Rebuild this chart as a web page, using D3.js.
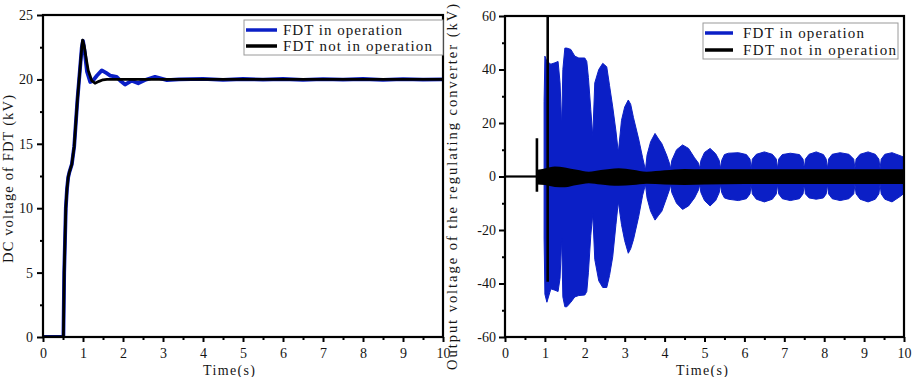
<!DOCTYPE html>
<html>
<head>
<meta charset="utf-8">
<script src="https://cdn.jsdelivr.net/npm/d3@7/dist/d3.min.js"></script>
<style>
  body { margin: 0; background: #fff; }
  svg { display: block; }
  text { font-family: "Liberation Serif", "DejaVu Serif", serif; fill: #151515; }
</style>
</head>
<body>
<svg id="chart" width="913" height="377"></svg>
<script>
// ---- left panel: DC voltage of FDT ----
const dcBlueT = [0, 0.5, 0.51, 0.53, 0.57, 0.6, 0.63, 0.66, 0.72, 0.78, 0.86, 0.93, 0.97, 1.0, 1.04, 1.1, 1.18, 1.25, 1.35, 1.47, 1.58, 1.68, 1.84, 1.95, 2.05, 2.22, 2.38, 2.55, 2.8, 3.1, 3.4, 4.0, 4.5, 5.0, 5.5, 6.0, 6.5, 7.0, 7.5, 8.0, 8.5, 9.0, 9.5, 10];
const dcBlueV = [0, 0, 0, 5, 10, 11.5, 12.4, 12.8, 13.4, 14.8, 18.4, 21, 22.5, 23, 22.2, 20.6, 19.8, 19.9, 20.3, 20.7, 20.5, 20.3, 20.2, 19.85, 19.6, 19.9, 19.7, 19.95, 20.2, 19.95, 20.0, 20.04, 19.97, 20.03, 19.98, 20.03, 19.97, 20.02, 19.98, 20.03, 19.97, 20.02, 19.98, 20];
const dcBlackT = [0, 0.5, 0.51, 0.53, 0.57, 0.6, 0.63, 0.66, 0.72, 0.78, 0.86, 0.93, 0.97, 0.99, 1.03, 1.08, 1.13, 1.22, 1.3, 1.4, 1.5, 1.6, 2.0, 10];
const dcBlackV = [0, 0, 0, 5, 10, 11.5, 12.4, 12.8, 13.4, 14.8, 18.4, 21, 22.5, 23.05, 22.6, 21.6, 20.7, 19.9, 19.7, 19.85, 19.97, 20, 20, 20];

// ---- right panel: envelopes of the output voltage ----
const outBlueT = [
  0.98, 1.0, 1.05, 1.15, 1.25, 1.33, 1.38, 1.42, 1.45, 1.5, 1.55, 1.65, 1.75, 1.85, 2.0, 2.05, 2.09, 2.15, 2.2, 2.25,
  2.35, 2.45, 2.55, 2.62, 2.7, 2.78, 2.84, 2.92, 3.0, 3.09, 3.15, 3.22, 3.35, 3.45, 3.52,
  3.56, 3.65, 3.76, 3.85, 3.93, 4.05, 4.12, 4.15,
  4.18, 4.3, 4.45, 4.6, 4.75, 4.85, 4.88,
  4.91, 5.0, 5.14, 5.28, 5.37, 5.4,
  5.43, 5.5, 5.6, 5.85, 6.05, 6.14, 6.17,
  6.2, 6.3, 6.5, 6.7, 6.8, 6.83,
  6.86, 6.95, 7.15, 7.38, 7.47, 7.5,
  7.53, 7.62, 7.8, 7.98, 8.05, 8.08,
  8.11, 8.2, 8.4, 8.62, 8.74, 8.77,
  8.8, 8.9, 9.1, 9.28, 9.37, 9.4,
  9.43, 9.52, 9.7, 9.9, 10];
const outBlueHigh = [
  28, 45, 43, 42, 42.5, 43, 35, 18.6, 40, 48, 48, 47.5, 45, 44.3, 44.3, 43, 37, 25, 15, 35,
  40, 42.3, 41, 34, 26, 17, 9, 21, 26, 28.6, 27, 22, 14, 7, 2.4,
  8, 13, 16.1, 14, 12.3, 8, 5, 3,
  6, 10, 11.8, 10.5, 7, 5, 3,
  6, 9, 10.5, 8.5, 6, 3,
  6, 8.2, 8.7, 8.9, 8.2, 6.5, 3,
  6.5, 8.3, 9.2, 8.3, 6.5, 3,
  6.5, 8.2, 8.7, 8.2, 6.5, 3,
  6.5, 8.3, 9.2, 8.2, 6.5, 3,
  6.5, 8.3, 8.9, 8.3, 6.5, 3,
  6.5, 8.3, 9.2, 8.3, 6.5, 3,
  6.5, 8.3, 8.9, 7.8, 7.2];
const outBlueLow = [
  -23, -44, -47, -42, -42.5, -43, -38, -23, -45, -48.7, -48.7, -47, -45, -44.5, -44.3, -43, -36, -22, -14, -31,
  -39, -41.5, -41.5, -37, -30, -18, -9.4, -18, -24, -28.7, -27, -23.6, -15, -7, -3,
  -8, -13, -16.3, -14.5, -13, -8, -5, -3,
  -6, -10, -12.3, -11, -8, -5, -3,
  -6, -9, -11, -9, -6, -3,
  -6, -8, -8.5, -9, -8.3, -6.5, -3,
  -6.5, -8.5, -9.5, -8.5, -6.5, -3,
  -6.5, -8.3, -9, -8.3, -6.5, -3,
  -6.5, -8, -8.5, -8, -6.5, -3,
  -6.5, -8.3, -9, -8.3, -6.5, -3,
  -6.5, -8.5, -9.5, -8.5, -6.5, -3,
  -6.5, -8.5, -9.5, -7.5, -6.3];
const outBlackT = [0.8, 1.0, 1.25, 1.5, 1.8, 2.1, 2.4, 2.85, 3.2, 3.55, 4.0, 4.5, 5.0, 6.0, 8.0, 10];
const outBlackHigh = [2.5, 3, 3.7, 3.4, 2.5, 1.8, 2.4, 3.1, 2.5, 1.8, 2.3, 2.8, 2.7, 2.7, 2.7, 2.7];
const outBlackLow = [-3, -3.2, -3.9, -4, -3.2, -2.5, -3, -3.5, -3.2, -2.7, -3, -3.2, -3, -2.8, -2.8, -2.8];
const outBlackFlatT = [0, 0.8];
const spikeT = [0.8, 1.07];
const spikeHigh = [14.3, 60];
const spikeLow = [-5.7, -39.3];

const xTicks = [0, 1, 2, 3, 4, 5, 6, 7, 8, 9, 10];
const leftYTicks = [0, 5, 10, 15, 20, 25];
const rightYTicks = [-60, -40, -20, 0, 20, 40, 60];
const seriesNames = ["FDT in operation", "FDT not in operation"];

const BLUE = "#0b1fc6";
const svg = d3.select("#chart");

function drawFrame(p) {
  const g = svg.append("g");
  // minor ticks
  g.append("g")
    .attr("transform", `translate(0,${p.y.range()[0]})`)
    .call(d3.axisBottom(p.x).tickValues(d3.range(0.5, 10, 1)).tickSize(3).tickFormat(""));
  g.append("g")
    .attr("transform", `translate(${p.x.range()[0]},0)`)
    .call(d3.axisLeft(p.y).tickValues(p.minorY).tickSize(3).tickFormat(""));
  // major ticks
  g.append("g")
    .attr("transform", `translate(0,${p.y.range()[0]})`)
    .call(d3.axisBottom(p.x).tickValues(xTicks).tickSize(5).tickPadding(6.5).tickFormat(d3.format("d")));
  g.append("g")
    .attr("transform", `translate(${p.x.range()[0]},0)`)
    .call(d3.axisLeft(p.y).tickValues(p.yTicks).tickSize(6).tickPadding(p.yPad).tickFormat(d => String(d)));
  g.selectAll(".domain").remove();
  g.selectAll(".tick line").attr("stroke", "#000").attr("stroke-width", 2);
  g.selectAll(".tick text").attr("font-size", 14).style("font-family", "Liberation Serif").attr("fill", "#151515");

  // box
  svg.append("rect")
    .attr("x", p.x.range()[0]).attr("y", p.y.range()[1])
    .attr("width", p.x.range()[1] - p.x.range()[0])
    .attr("height", p.y.range()[0] - p.y.range()[1])
    .attr("fill", "none").attr("stroke", "#000").attr("stroke-width", 2.2);

  // axis titles
  svg.append("text")
    .attr("x", p.xTitleX).attr("y", 374.5)
    .attr("text-anchor", "middle").attr("font-size", 14)
    .attr("textLength", 52).attr("lengthAdjust", "spacing")
    .text("Time(s)");
  svg.append("text")
    .attr("transform", `translate(${p.yTitleX},${p.yTitleY}) rotate(-90)`)
    .attr("text-anchor", "middle").attr("font-size", 14.5)
    .attr("textLength", p.yTitleLen).attr("lengthAdjust", "spacing")
    .text(p.yTitle);

  // legend
  const lg = svg.append("g");
  lg.append("rect")
    .attr("x", p.leg.x).attr("y", p.leg.y).attr("width", p.leg.w).attr("height", p.leg.h)
    .attr("fill", "#fff").attr("stroke", "#9a9a9a").attr("stroke-width", 1);
  [BLUE, "#000"].forEach((c, i) => {
    lg.append("line")
      .attr("x1", p.leg.lx1).attr("x2", p.leg.lx2)
      .attr("y1", p.leg.ly[i]).attr("y2", p.leg.ly[i])
      .attr("stroke", c).attr("stroke-width", 3.5);
    lg.append("text")
      .attr("x", p.leg.tx).attr("y", p.leg.ly[i] + 5)
      .attr("font-size", 15)
      .attr("textLength", p.leg.tl[i]).attr("lengthAdjust", "spacing")
      .text(seriesNames[i]);
  });
}

// ---------- left panel ----------
const xL = d3.scaleLinear().domain([0, 10]).range([43, 443]);
const yL = d3.scaleLinear().domain([0, 25]).range([337, 15]);

svg.append("clipPath").attr("id", "clipL").append("rect")
  .attr("x", 43).attr("y", 15).attr("width", 400).attr("height", 322);

const lineL = d3.line().x(d => xL(d[0])).y(d => yL(d[1]));
const gL = svg.append("g").attr("clip-path", "url(#clipL)");
gL.append("path")
  .datum(dcBlueT.map((t, i) => [t, dcBlueV[i]]))
  .attr("d", lineL).attr("fill", "none")
  .attr("stroke", BLUE).attr("stroke-width", 3.8).attr("stroke-linejoin", "round");
gL.append("path")
  .datum(dcBlackT.map((t, i) => [t, dcBlackV[i]]))
  .attr("d", lineL).attr("fill", "none")
  .attr("stroke", "#000").attr("stroke-width", 2.8).attr("stroke-linejoin", "round");

drawFrame({
  x: xL, y: yL, yTicks: leftYTicks, minorY: d3.range(2.5, 25, 5), yPad: 4,
  xTitleX: 229, yTitleX: 13, yTitleY: 179, yTitleLen: 168,
  yTitle: "DC voltage of FDT (kV)",
  leg: { x: 244, y: 20, w: 199, h: 35, lx1: 246, lx2: 277, ly: [30, 46], tx: 283, tl: [119, 149] }
});

// ---------- right panel ----------
const xR = d3.scaleLinear().domain([0, 10]).range([505, 904]);
const yR = d3.scaleLinear().domain([-60, 60]).range([337, 16]);

svg.append("clipPath").attr("id", "clipR").append("rect")
  .attr("x", 505).attr("y", 16).attr("width", 399).attr("height", 321);

const gR = svg.append("g").attr("clip-path", "url(#clipR)");
const band = d3.area().x(d => xR(d[0])).y0(d => yR(d[2])).y1(d => yR(d[1]));

gR.append("path")
  .datum(outBlueT.map((t, i) => [t, outBlueHigh[i], outBlueLow[i]]))
  .attr("d", band).attr("fill", BLUE).attr("stroke", BLUE).attr("stroke-width", 1);

gR.append("path")
  .datum(outBlackT.map((t, i) => [t, outBlackHigh[i], outBlackLow[i]]))
  .attr("d", band.curve(d3.curveMonotoneX)).attr("fill", "#000");

gR.append("line")
  .attr("x1", xR(outBlackFlatT[0])).attr("x2", xR(outBlackFlatT[1]))
  .attr("y1", yR(0)).attr("y2", yR(0))
  .attr("stroke", "#000").attr("stroke-width", 2.2);

gR.selectAll("line.spike")
  .data(spikeT.map((t, i) => [t, spikeHigh[i], spikeLow[i]]))
  .enter().append("line")
  .attr("class", "spike")
  .attr("x1", d => xR(d[0])).attr("x2", d => xR(d[0]))
  .attr("y1", d => yR(d[1])).attr("y2", d => yR(d[2]))
  .attr("stroke", "#000").attr("stroke-width", 2.6);

drawFrame({
  x: xR, y: yR, yTicks: rightYTicks, minorY: d3.range(-50, 60, 20), yPad: 3,
  xTitleX: 702, yTitleX: 457, yTitleY: 187, yTitleLen: 366,
  yTitle: "Output voltage of the regulating converter (kV)",
  leg: { x: 703, y: 23, w: 195, h: 36, lx1: 705, lx2: 733, ly: [33, 50], tx: 743, tl: [121, 153] }
});
</script>
</body>
</html>
